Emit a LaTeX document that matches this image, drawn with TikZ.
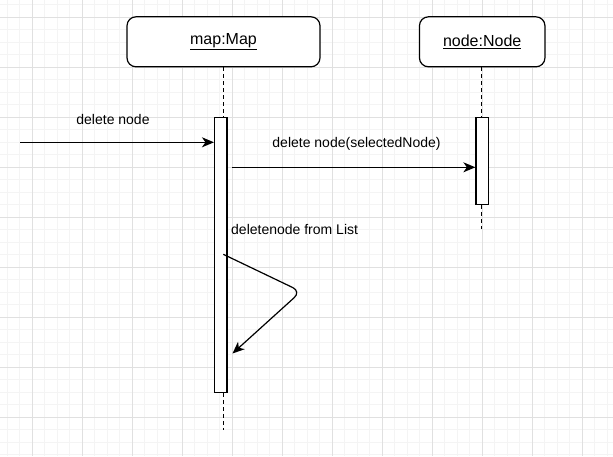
\documentclass[tikz,border=0pt]{standalone}
\usepackage{fontspec}
\setmainfont{Liberation Sans}
\usetikzlibrary{arrows.meta,calc}
\definecolor{gridminor}{HTML}{F4F4F4}
\definecolor{gridmajor}{HTML}{E0E0E0}
\tikzset{
  objbox/.style={draw=black, line width=1.2pt, rounded corners=9pt, fill=white, inner sep=0pt, font=\fontsize{16}{19}\selectfont},
  actbar/.style={draw=black, line width=1.2pt, fill=white, minimum width=12.5pt, inner sep=0pt},
  lifeline/.style={draw=black, line width=1.2pt, dash pattern=on 4pt off 3pt},
  msg/.style={draw=black, line width=1.2pt, -{Stealth[length=12pt,width=10pt,inset=3.5pt]}},
  msglabel/.style={inner sep=0pt, font=\fontsize{14}{16}\selectfont},
}
\begin{document}
\begin{tikzpicture}[x=1pt,y=-1pt]
\useasboundingbox (0,0) rectangle (613,456);
\fill[white] (0,0) rectangle (613,456);
% grid
\foreach \i in {0,...,48} {\draw[gridminor, line width=0.8pt] ({7.3+12.5*\i},0) -- ({7.3+12.5*\i},456);}
\foreach \i in {0,...,36} {\draw[gridminor, line width=0.8pt] (0,{4.8+12.5*\i}) -- (613,{4.8+12.5*\i});}
\foreach \i in {0,...,11} {\draw[gridmajor, line width=0.8pt] ({32.3+50*\i},0) -- ({32.3+50*\i},456);}
\foreach \i in {0,...,8} {\draw[gridmajor, line width=0.8pt] (0,{17.3+50*\i}) -- (613,{17.3+50*\i});}
% objects
\node[objbox, minimum width=193pt, minimum height=50pt] (mapbox) at (223.5,41.8) {\underline{map:Map}};
\node[objbox, minimum width=125.5pt, minimum height=50pt] (nodebox) at (482.2,41.8) {\underline{node:Node}};
% lifelines
\coordinate (mapend) at (223.3,430);
\coordinate (nodeend) at (481.8,229);
\node[actbar, minimum height=275pt] (mapbar) at (220.8,254.8) {};
\node[actbar, minimum height=87pt] (nodebar) at (482.2,160.8) {};
\draw[lifeline] (mapbox.south -| mapend) -- (mapbar.north -| mapend);
\draw[lifeline] (mapbar.south -| mapend) -- (mapend);
\draw[lifeline] (nodebox.south -| nodeend) -- (nodebar.north -| nodeend);
\draw[lifeline] (nodebar.south -| nodeend) -- (nodeend);
% messages
\coordinate (m1start) at (20,142.3);
\draw[msg] (m1start) -- (m1start -| mapbar.west);
\node[msglabel] (m1label) at (113,119.5) {delete node};
\coordinate (m2start) at (232,167.3);
\draw[msg] (m2start) -- (m2start -| nodebar.west);
\node[msglabel] (m2label) at (356.5,144) {delete node(selectedNode)};
\coordinate (selfstart) at (223.3,254.3);
\coordinate (selfend) at (232.5,353.5);
\draw[msg, rounded corners=9pt] (selfstart) -- (301,291.5) -- (selfend);
\node[msglabel, anchor=west] (m3label) at (231,229.5) {deletenode from List};
\end{tikzpicture}
\end{document}
